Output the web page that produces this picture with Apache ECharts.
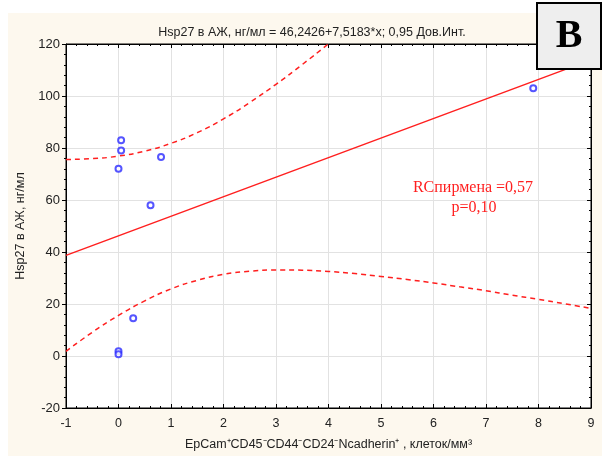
<!DOCTYPE html>
<html>
<head>
<meta charset="utf-8">
<script src="https://cdn.jsdelivr.net/npm/echarts@6/dist/echarts.min.js"></script>
<style>
  html, body { margin: 0; padding: 0; background: #fff; }
  #chart { width: 602px; height: 459px; }
</style>
</head>
<body>
<div id="chart"></div>
<script>
var pointsX = [0.05, 0.05, 0, 0.81, 0.61, 0.28, 0, 0, 7.9];
var pointsY = [83, 79, 72, 76.5, 58, 14.5, 1.8, 0.7, 103];

// линия регрессии: концы
var lineX = [-1, 9];
var lineY = [38.7, 113.9];

// 0,95 дов. интервал
var bandX = [-1, -0.5, 0, 0.5, 1, 1.5, 2, 2.5, 3, 3.5, 4, 4.5, 5, 5.5, 6, 6.5, 7, 7.5, 8, 8.5, 9];
var bandUpper = [75.6, 75.9, 76.9, 78.8, 81.8, 85.9, 91.2, 97.5, 104.5, 112.1, 120.1, 128.5, 137, 145.8, 154.7, 163.6, 172.7, 181.8, 191, 200.2, 209.5];
var bandLower = [1.8, 9.1, 15.6, 21.2, 25.8, 29.1, 31.4, 32.6, 33.1, 33.0, 32.5, 31.7, 30.6, 29.4, 28.1, 26.6, 25.1, 23.4, 21.8, 20.1, 18.3];

var titleText = 'Hsp27 в АЖ, нг/мл = 46,2426+7,5183*x; 0,95 Дов.Инт.';
var xName = 'EpCam⁺CD45⁻CD44⁻CD24⁻Ncadherin⁺ , клеток/мм³';
var yName = 'Hsp27 в АЖ, нг/мл';

function zip(a, b) {
  var out = [];
  for (var i = 0; i < a.length; i++) out.push([a[i], b[i]]);
  return out;
}

var chart = echarts.init(document.getElementById('chart'));
var font = 'Liberation Sans, Arial, sans-serif';
var red = '#ff1f1f';

var option = {
  backgroundColor: '#ffffff',
  animation: false,
  title: {
    text: titleText,
    left: 307,
    top: 21,
    textAlign: 'center',
    textStyle: { fontFamily: font, fontSize: 12.5, fontWeight: 'normal', color: '#222' }
  },
  grid: {
    left: 66, right: 11, top: 44, bottom: 51,
    show: true, backgroundColor: '#ffffff', borderColor: '#000', borderWidth: 1
  },
  xAxis: [{
    type: 'value', min: -1, max: 9, interval: 1,
    name: xName, nameLocation: 'middle', nameGap: 30,
    nameTextStyle: { fontFamily: font, fontSize: 12.5, color: '#222' },
    axisLine: { show: true, onZero: false, lineStyle: { color: '#000' } },
    axisTick: { show: true, inside: true, length: 4, lineStyle: { color: '#000' } },
    minorTick: { show: true, splitNumber: 5, length: 2, lineStyle: { color: '#000' } },
    axisLabel: { fontFamily: font, fontSize: 12.5, color: '#222', margin: 9 },
    splitLine: { show: true, lineStyle: { color: '#e2e2e2', width: 1 } }
  }, {
    type: 'value', min: -1, max: 9, interval: 1, position: 'top',
    axisLine: { show: true, onZero: false, lineStyle: { color: '#000' } },
    axisTick: { show: true, inside: true, length: 4, lineStyle: { color: '#000' } },
    minorTick: { show: true, splitNumber: 5, length: 2, lineStyle: { color: '#000' } },
    axisLabel: { show: false },
    splitLine: { show: false }
  }],
  yAxis: [{
    type: 'value', min: -20, max: 120, interval: 20,
    name: yName, nameLocation: 'middle', nameGap: 37,
    nameTextStyle: { fontFamily: font, fontSize: 12.5, color: '#222' },
    axisLine: { show: true, onZero: false, lineStyle: { color: '#000' } },
    axisTick: { show: true, inside: false, length: 4, lineStyle: { color: '#000' } },
    minorTick: { show: true, splitNumber: 5, length: 2, lineStyle: { color: '#000' } },
    axisLabel: { fontFamily: font, fontSize: 13, color: '#222', margin: 6 },
    splitLine: { show: true, lineStyle: { color: '#e2e2e2', width: 1 } }
  }, {
    type: 'value', min: -20, max: 120, interval: 20, position: 'right',
    axisLine: { show: true, onZero: false, lineStyle: { color: '#000' } },
    axisTick: { show: true, inside: true, length: 4, lineStyle: { color: '#000' } },
    minorTick: { show: true, splitNumber: 5, length: 2, lineStyle: { color: '#000' } },
    axisLabel: { show: false },
    splitLine: { show: false }
  }],
  series: [
    {
      type: 'line', data: zip(bandX, bandUpper),
      smooth: true, showSymbol: false, clip: true,
      lineStyle: { color: red, width: 1.5, type: [5, 4] }
    },
    {
      type: 'line', data: zip(bandX, bandLower),
      smooth: true, showSymbol: false, clip: true,
      lineStyle: { color: red, width: 1.5, type: [5, 4] }
    },
    {
      type: 'line', data: zip(lineX, lineY),
      showSymbol: false, clip: true,
      lineStyle: { color: red, width: 1.5 }
    },
    {
      type: 'scatter', data: zip(pointsX, pointsY), z: 5,
      symbol: 'emptyCircle', symbolSize: 6,
      itemStyle: { color: '#2b2bff', borderColor: '#2b2bff', borderWidth: 1.3 }
    }
  ],
  graphic: [
    {
      type: 'rect', z: -10, silent: true,
      shape: { x: 8, y: 13, width: 594, height: 443 },
      style: { fill: '#fdf8ee' }
    },
    {
      type: 'text', z: 50, silent: true,
      x: 473, y: 188,
      style: {
        text: 'RCпирмена =0,57', fill: red, align: 'center', verticalAlign: 'middle',
        font: '16px "Liberation Serif", "Times New Roman", serif'
      }
    },
    {
      type: 'text', z: 50, silent: true,
      x: 474, y: 208,
      style: {
        text: 'p=0,10', fill: red, align: 'center', verticalAlign: 'middle',
        font: '16px "Liberation Serif", "Times New Roman", serif'
      }
    },
    {
      type: 'rect', z: 100, silent: true,
      shape: { x: 537, y: 3, width: 64, height: 66 },
      style: { fill: '#eeeeee', stroke: '#000', lineWidth: 2 }
    },
    {
      type: 'text', z: 101, silent: true,
      x: 569, y: 37,
      style: {
        text: 'B', fill: '#000', align: 'center', verticalAlign: 'middle',
        font: 'bold 40px "Liberation Serif", "Times New Roman", serif'
      }
    }
  ]
};

option && chart.setOption(option);
</script>
</body>
</html>
